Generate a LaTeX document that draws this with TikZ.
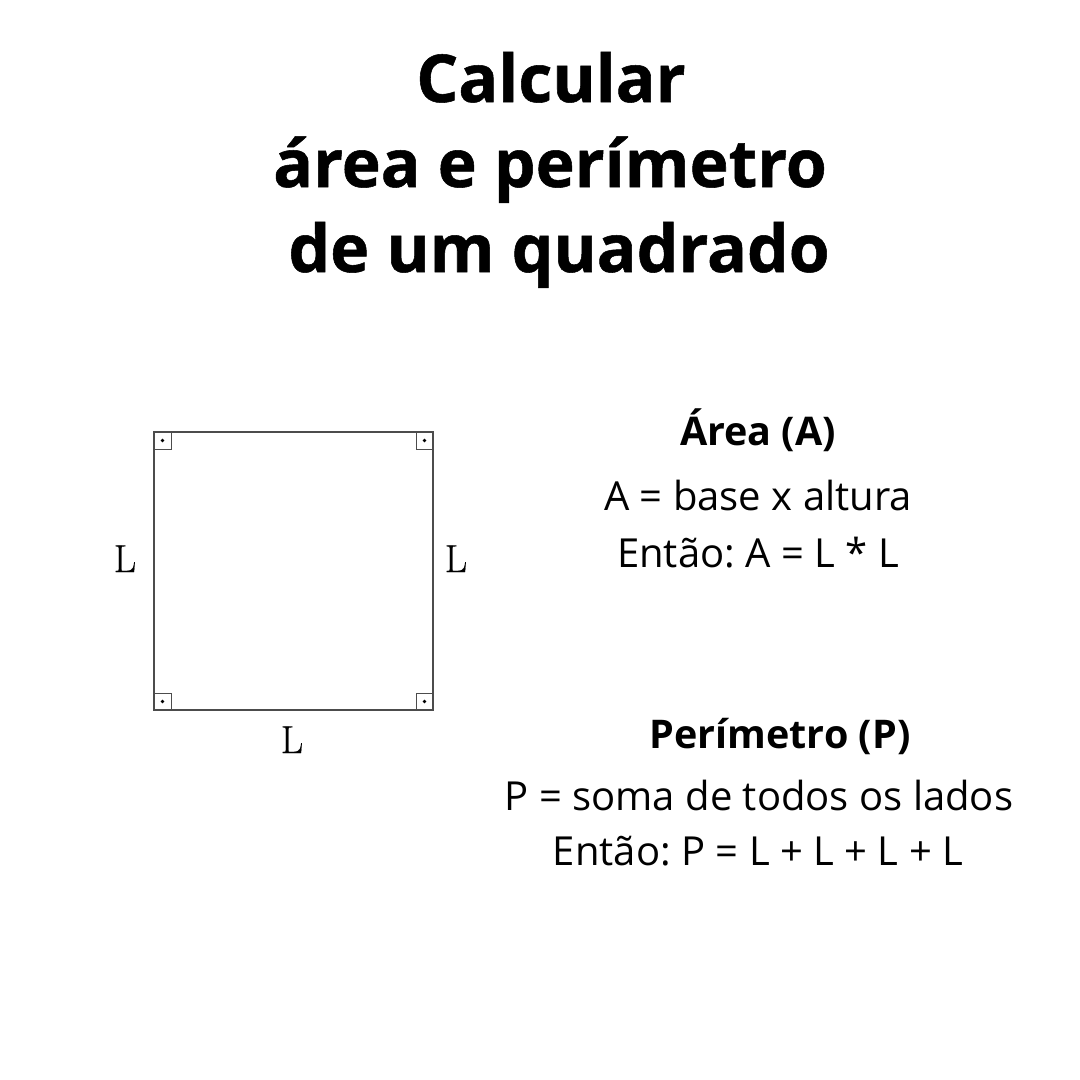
\documentclass[tikz,border=0pt]{standalone}
\usepackage{fontspec}
\setmainfont{Open Sans}
\newfontfamily\titlefont[BoldFeatures={FakeBold=0.8}]{Open Sans}
\newfontfamily\lmserif[FakeBold=0.4]{Latin Modern Roman}
\frenchspacing
\begin{document}
\begin{tikzpicture}[x=1pt,y=1pt,
  title/.style={font=\titlefont\fontsize{66}{80}\selectfont\bfseries, anchor=base, inner sep=0pt},
  head/.style={font=\fontsize{39.5}{46}\selectfont\bfseries, anchor=base, inner sep=0pt},
  body/.style={font=\fontsize{40}{46}\selectfont, anchor=base, inner sep=0pt},
  side/.style={font=\lmserif\fontsize{39}{46}\selectfont, anchor=base, inner sep=0pt},
  edge/.style={draw=black!70, line width=1.4pt},
  cornermark/.style={draw=black!70, line width=1pt}]
\useasboundingbox[fill=white] (0,0) rectangle (1080,-1080);
% title
\node[title] (t1) at (551,-102) {Calcular};
\node[title] (t2) at (550,-187) {área e perímetro};
\node[title] (t3) at (559,-272) {de um quadrado};
% square
\coordinate (sw) at (154,-710);
\coordinate (ne) at (433,-432);
\draw[edge] (sw) rectangle (ne);
\foreach \cx/\cy/\dx/\dy in {154/-432/1/-1, 433/-432/-1/-1, 154/-710/1/1, 433/-710/-1/1}{
  \draw[cornermark] (\cx,\cy+\dy*17) -- (\cx+\dx*17,\cy+\dy*17) -- (\cx+\dx*17,\cy);
  \fill[black] (\cx+\dx*8.5,\cy+\dy*8.5) circle (1.8);
}
\node[side] (lL) at (125,-572) {L};
\node[side] (lR) at (456,-572) {L};
\node[side] (lB) at (292,-753) {L};
% area
\node[head] (ah) at (758,-445) {Área (A)};
\node[body] (a1) at (758,-510) {A = base x altura};
\node[body] (a2) at (758,-567) {Então: A = L * L};
% perimeter
\node[head] (ph) at (780,-748) {Perímetro (P)};
\node[body] (p1) at (759,-810) {P = soma de todos os lados};
\node[body] (p2) at (758,-865) {Então: P = L + L + L + L};
\end{tikzpicture}
\end{document}
